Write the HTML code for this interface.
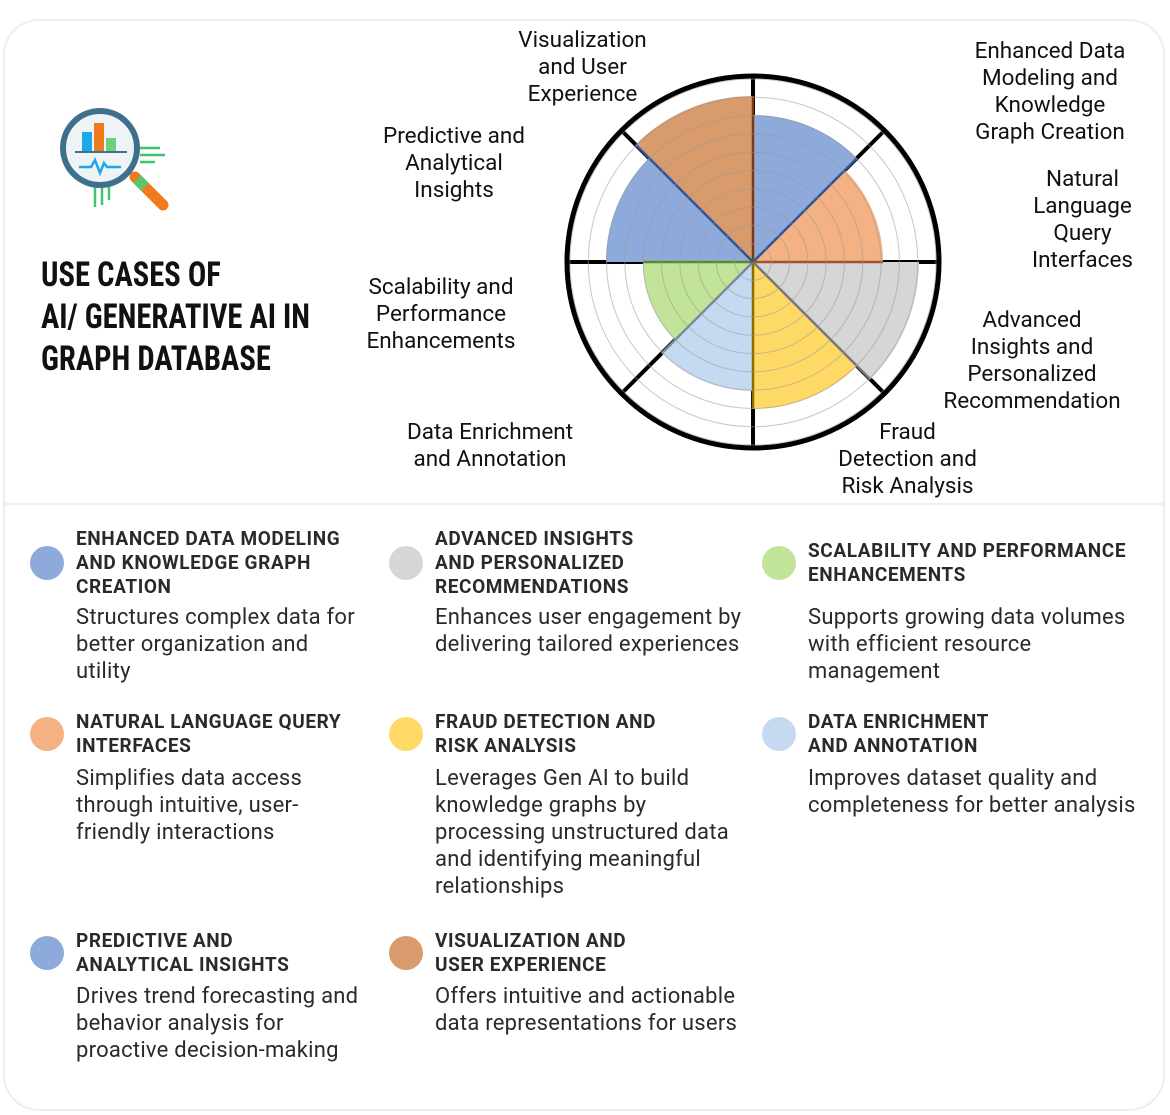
<!DOCTYPE html>
<html><head><meta charset="utf-8"><style>
body{margin:0;width:1170px;height:1115px;background:#fff;font-family:"Roboto","Liberation Sans",sans-serif;color:#222;position:relative;overflow:hidden}
.card{position:absolute;left:3px;top:19px;width:1162px;height:1092px;border:2px solid #eee;border-radius:36px;box-sizing:border-box}
.div{position:absolute;left:5px;top:503px;width:1160px;height:2px;background:#eee}
.t{position:absolute;font-size:22.5px;line-height:27px;text-align:center;color:#111;white-space:nowrap}
.title{position:absolute;left:41px;top:254px;font-family:"Roboto Condensed","Liberation Sans Narrow","Liberation Sans",sans-serif;font-weight:bold;font-size:34px;line-height:42px;color:#111;transform:scaleX(.9);transform-origin:left;white-space:nowrap}
.dot{position:absolute;width:34px;height:34px;border-radius:50%}
.h{position:absolute;font-weight:bold;font-size:19px;letter-spacing:.6px;line-height:24px;color:#2a2a2a;white-space:nowrap}
.d{position:absolute;font-size:22px;letter-spacing:.25px;line-height:27px;color:#2a2a2a;white-space:nowrap}
</style></head><body>
<div class="card"></div>
<div class="div"></div>
<svg style="position:absolute;left:55px;top:105px" width="120" height="115" viewBox="0 0 120 115">
<g stroke="#3fc56e" stroke-width="2.5"><line x1="85" y1="43" x2="105" y2="43"/><line x1="85" y1="50" x2="110" y2="50"/><line x1="85" y1="57" x2="100" y2="57"/><line x1="40" y1="80" x2="40" y2="102"/><line x1="47" y1="80" x2="47" y2="100"/><line x1="54" y1="80" x2="54" y2="95"/></g>
<line x1="80" y1="72" x2="108" y2="100" stroke="#f07a1e" stroke-width="11" stroke-linecap="round"/>
<line x1="82" y1="74" x2="90" y2="82" stroke="#5cc46a" stroke-width="11"/>
<circle cx="45" cy="43" r="37" fill="#eef3f5" stroke="#3e6f8c" stroke-width="6"/>
<rect x="27" y="27" width="10" height="20" fill="#1fa8e8"/><rect x="39" y="18" width="10" height="29" fill="#f07a1e"/><rect x="51" y="33" width="10" height="14" fill="#6dd07c"/>
<line x1="20" y1="47" x2="72" y2="47" stroke="#3e6f8c" stroke-width="2"/>
<polyline points="24,62 36,62 40,55 45,68 49,58 52,62 66,62" fill="none" stroke="#1fa8e8" stroke-width="2.5"/>
</svg>
<div class="title">USE CASES OF<br>AI/ GENERATIVE AI IN<br>GRAPH DATABASE</div>
<svg style="position:absolute;left:0;top:0" width="1170" height="500">
<g transform="translate(753,262)">
<g stroke="#000" stroke-width="4">
<line x1="0" y1="-186" x2="0" y2="186"/><line x1="-186" y1="0" x2="186" y2="0"/>
<line x1="-131.5" y1="-131.5" x2="131.5" y2="131.5"/><line x1="-131.5" y1="131.5" x2="131.5" y2="-131.5"/>
</g>
<path d="M0 0 L0 -147 A147 147 0 0 1 103.9 -103.9Z" fill="#8eaadb"/>
<path d="M0 0 L91.9 -91.9 A130 130 0 0 1 130 0Z" fill="#f4b183"/>
<path d="M0 0 L166 0 A166 166 0 0 1 117.4 117.4Z" fill="#d6d6d6"/>
<path d="M0 0 L104 104 A147 147 0 0 1 0 147Z" fill="#ffd966"/>
<path d="M0 0 L0 129 A129 129 0 0 1 -91.2 91.2Z" fill="#c5daf0"/>
<path d="M0 0 L-77.8 77.8 A110 110 0 0 1 -110 0Z" fill="#c1e39a"/>
<path d="M0 0 L-147 0 A147 147 0 0 1 -104 -104Z" fill="#8eaadb"/>
<path d="M0 0 L-117.4 -117.4 A166 166 0 0 1 0 -166Z" fill="#d99a6c"/>
<g stroke-width="2.5">
<line x1="0" y1="0" x2="0" y2="-166" stroke="#7a3b10"/>
<line x1="0" y1="0" x2="103.9" y2="-103.9" stroke="#2f5597"/>
<line x1="0" y1="0" x2="130" y2="0" stroke="#a0522d"/>
<line x1="0" y1="0" x2="117.4" y2="117.4" stroke="#777"/>
<line x1="0" y1="0" x2="0" y2="147" stroke="#8a6d00"/>
<line x1="0" y1="0" x2="-91.2" y2="91.2" stroke="#7a8a9a"/>
<line x1="0" y1="0" x2="-110" y2="0" stroke="#5a8a2a"/>
<line x1="0" y1="0" x2="-117.4" y2="-117.4" stroke="#2f5597"/>
</g>
<g fill="none" stroke="#999" stroke-opacity=".55" stroke-width="1">
<circle r="18.3"/><circle r="36.6"/><circle r="54.9"/><circle r="73.2"/><circle r="91.5"/><circle r="109.8"/><circle r="128.1"/><circle r="146.4"/><circle r="164.7"/><circle r="183"/>
</g>
<circle r="186" fill="none" stroke="#000" stroke-width="5"/>
</g></svg>
<div class="t" style="left:500px;top:27px;width:165px">Visualization<br>and User<br>Experience</div>
<div class="t" style="left:950px;top:38px;width:200px">Enhanced Data<br>Modeling and<br>Knowledge<br>Graph Creation</div>
<div class="t" style="left:1000px;top:166px;width:165px">Natural<br>Language<br>Query<br>Interfaces</div>
<div class="t" style="left:364px;top:123px;width:180px">Predictive and<br>Analytical<br>Insights</div>
<div class="t" style="left:345px;top:274px;width:192px">Scalability and<br>Performance<br>Enhancements</div>
<div class="t" style="left:922px;top:307px;width:220px">Advanced<br>Insights and<br>Personalized<br>Recommendation</div>
<div class="t" style="left:390px;top:419px;width:200px">Data Enrichment<br>and Annotation</div>
<div class="t" style="left:820px;top:419px;width:175px">Fraud<br>Detection and<br>Risk Analysis</div>

<div class="dot" style="left:30px;top:546px;background:#8eaadb"></div>
<div class="h" style="left:76px;top:527px">ENHANCED DATA MODELING<br>AND KNOWLEDGE GRAPH<br>CREATION</div>
<div class="d" style="left:76px;top:604px">Structures complex data for<br>better organization and<br>utility</div>
<div class="dot" style="left:389px;top:546px;background:#d6d6d6"></div>
<div class="h" style="left:435px;top:527px">ADVANCED INSIGHTS<br>AND PERSONALIZED<br>RECOMMENDATIONS</div>
<div class="d" style="left:435px;top:604px">Enhances user engagement by<br>delivering tailored experiences</div>
<div class="dot" style="left:762px;top:546px;background:#c1e39a"></div>
<div class="h" style="left:808px;top:539px">SCALABILITY AND PERFORMANCE<br>ENHANCEMENTS</div>
<div class="d" style="left:808px;top:604px">Supports growing data volumes<br>with efficient resource<br>management</div>

<div class="dot" style="left:30px;top:717px;background:#f4b183"></div>
<div class="h" style="left:76px;top:710px">NATURAL LANGUAGE QUERY<br>INTERFACES</div>
<div class="d" style="left:76px;top:765px">Simplifies data access<br>through intuitive, user-<br>friendly interactions</div>
<div class="dot" style="left:389px;top:717px;background:#ffd966"></div>
<div class="h" style="left:435px;top:710px">FRAUD DETECTION AND<br>RISK ANALYSIS</div>
<div class="d" style="left:435px;top:765px">Leverages Gen AI to build<br>knowledge graphs by<br>processing unstructured data<br>and identifying meaningful<br>relationships</div>
<div class="dot" style="left:762px;top:717px;background:#c5daf0"></div>
<div class="h" style="left:808px;top:710px">DATA ENRICHMENT<br>AND ANNOTATION</div>
<div class="d" style="left:808px;top:765px">Improves dataset quality and<br>completeness for better analysis</div>

<div class="dot" style="left:30px;top:936px;background:#8eaadb"></div>
<div class="h" style="left:76px;top:929px">PREDICTIVE AND<br>ANALYTICAL INSIGHTS</div>
<div class="d" style="left:76px;top:983px">Drives trend forecasting and<br>behavior analysis for<br>proactive decision-making</div>
<div class="dot" style="left:389px;top:936px;background:#d99a6c"></div>
<div class="h" style="left:435px;top:929px">VISUALIZATION AND<br>USER EXPERIENCE</div>
<div class="d" style="left:435px;top:983px">Offers intuitive and actionable<br>data representations for users</div>
</body></html>
